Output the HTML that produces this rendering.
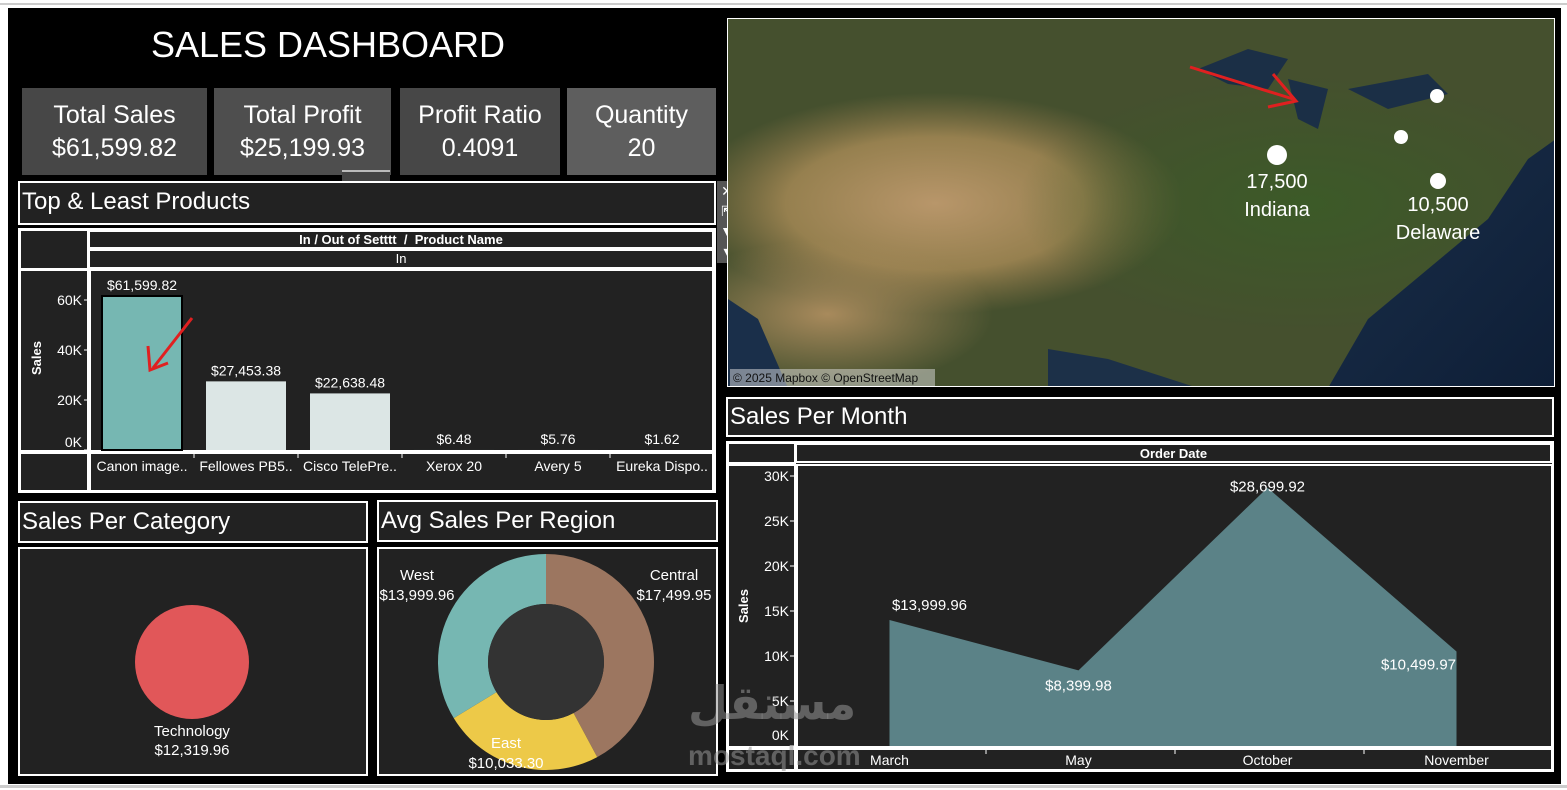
<!DOCTYPE html>
<html><head><meta charset="utf-8"><style>
*{box-sizing:border-box;margin:0;padding:0}
body{width:1567px;height:790px;background:#fff;position:relative;overflow:hidden;font-family:"Liberation Sans Narrow","Liberation Sans","DejaVu Sans",sans-serif;color:#fff}
.a{position:absolute}
.frame{position:absolute;left:8px;top:8px;width:1553px;height:776px;background:#000}
.kpi{position:absolute;top:88px;height:87px;background:#474747;text-align:center;font-size:25px;line-height:33px;padding-top:11px}
.hdr{position:absolute;background:#222;border:2px solid #fff;font-size:24px;padding-left:2px;line-height:38px}
.pan{position:absolute;background:#222;border:2px solid #fff}
.cell{position:absolute;background:#222;border:2px solid #fff}
svg text{font-family:"Liberation Sans Narrow","Liberation Sans",sans-serif}
</style></head><body>
<div class="a" style="left:0;top:3px;width:1567px;height:2px;background:#ccc"></div>
<div class="frame"></div>
<div class="a" style="left:0;top:785px;width:1567px;height:3px;background:#ccc"></div>
<div class="a" style="left:8px;width:640px;top:24px;text-align:center;font-size:36px">SALES DASHBOARD</div>
<div class="kpi" style="left:22px;width:185px">Total Sales<br>$61,599.82</div>
<div class="kpi" style="left:214px;width:177px;background:#4e4e4e">Total Profit<br>$25,199.93</div>
<div class="kpi" style="left:400px;width:160px">Profit Ratio<br>0.4091</div>
<div class="kpi" style="left:567px;width:149px;background:#5e5e5e">Quantity<br>20</div>
<div class="a" style="left:342px;top:170px;width:48px;height:12px;background:#444;border-top:2px solid #bbb"></div>

<div class="hdr" style="left:18px;top:181px;width:698px;height:44px">Top &amp; Least Products</div>
<div class="a" style="left:717px;top:181px;width:20px;height:82px;background:#555;font-size:14px;text-align:center;line-height:20px">✕<br>⇱<br>▼<br>▾</div>
<div class="pan" style="left:18px;top:228px;width:698px;height:265px"></div>
<div class="cell" style="left:88px;top:230px;width:626px;height:19px;font-size:13px;font-weight:bold;text-align:center;line-height:15px">In / Out of Setttt &nbsp;/ &nbsp;Product Name</div>
<div class="cell" style="left:88px;top:249px;width:626px;height:20px;font-size:13px;text-align:center;line-height:16px">In</div>
<svg class="a" style="left:18px;top:228px" width="700" height="265" id="bars"></svg>

<div class="hdr" style="left:18px;top:501px;width:350px;height:42px">Sales Per Category</div>
<div class="pan" style="left:18px;top:547px;width:350px;height:229px"></div>
<svg class="a" style="left:18px;top:547px" width="350" height="229">
<circle cx="174" cy="115" r="57" fill="#e15759"/>
<text x="174" y="189" text-anchor="middle" font-size="15" fill="#fff">Technology</text>
<text x="174" y="208" text-anchor="middle" font-size="15" fill="#fff">$12,319.96</text>
</svg>

<div class="hdr" style="left:377px;top:500px;width:341px;height:42px">Avg Sales Per Region</div>
<div class="pan" style="left:377px;top:547px;width:341px;height:229px"></div>
<svg class="a" style="left:377px;top:547px" width="341" height="229" id="donut"></svg>

<div class="a" style="left:727px;top:18px;width:828px;height:369px;border:1px solid #fff;overflow:hidden;background:#3d4a2a">
<svg width="828" height="369">
<defs>
<radialGradient id="g1" cx="0.25" cy="0.5" r="0.3"><stop offset="0" stop-color="#b8966a"/><stop offset="0.6" stop-color="#96804f"/><stop offset="1" stop-color="#8a7446" stop-opacity="0"/></radialGradient>
<radialGradient id="g3" cx="0.12" cy="0.8" r="0.2"><stop offset="0" stop-color="#a88a5c"/><stop offset="1" stop-color="#a88a5c" stop-opacity="0"/></radialGradient>
<radialGradient id="g2" cx="0.7" cy="0.5" r="0.35"><stop offset="0" stop-color="#3c5a28"/><stop offset="1" stop-color="#3c5a28" stop-opacity="0"/></radialGradient>
<linearGradient id="oc" x1="0" y1="0" x2="1" y2="1"><stop offset="0" stop-color="#1a2f4a"/><stop offset="1" stop-color="#0e1e36"/></linearGradient>
</defs>
<rect width="828" height="369" fill="#45502e"/>
<rect width="828" height="369" fill="url(#g1)"/>
<rect width="828" height="369" fill="url(#g3)"/>
<rect width="828" height="369" fill="url(#g2)"/>
<path d="M600 369 L640 300 L700 250 L760 200 L800 140 L828 120 L828 369 Z" fill="url(#oc)"/>
<path d="M0 280 L30 300 L60 369 L0 369 Z" fill="#1a2f4a"/>
<path d="M320 330 L380 340 L470 369 L320 369Z" fill="#1c3048"/>
<path d="M470 50 L520 30 L560 40 L540 70 L500 65Z M560 60 L600 70 L590 110 L570 100Z M620 70 L700 55 L720 75 L660 90Z" fill="#1b2f46"/>
<rect x="2" y="350" width="205" height="17" fill="#ddd" opacity="0.5"/>
<text x="5" y="363" font-size="12" fill="#111" style="font-family:'Liberation Sans',sans-serif">© 2025 Mapbox © OpenStreetMap</text>
<circle cx="709" cy="77" r="7" fill="#fff"/><circle cx="673" cy="118" r="7" fill="#fff"/>
<circle cx="549" cy="136" r="10" fill="#fff"/><circle cx="710" cy="162" r="8" fill="#fff"/>
<text x="549" y="169" text-anchor="middle" font-size="20" fill="#fff">17,500</text>
<text x="549" y="197" text-anchor="middle" font-size="20" fill="#fff">Indiana</text>
<text x="710" y="192" text-anchor="middle" font-size="20" fill="#fff">10,500</text>
<text x="710" y="220" text-anchor="middle" font-size="20" fill="#fff">Delaware</text>
<path d="M462 48 L565 80 M545 55 L568 82 L540 88" stroke="#e02020" stroke-width="3" fill="none"/>
</svg></div>

<div class="hdr" style="left:726px;top:397px;width:828px;height:40px;line-height:36px">Sales Per Month</div>
<div class="pan" style="left:726px;top:441px;width:828px;height:331px"></div>
<div class="cell" style="left:795px;top:443px;width:757px;height:20px;font-size:13px;font-weight:bold;text-align:center;line-height:17px">Order Date</div>
<svg class="a" style="left:726px;top:441px" width="828" height="331" id="area"></svg>
<div class="a" style="left:688px;top:680px;font-size:46px;color:rgba(150,150,150,0.55);font-weight:bold;font-family:'Liberation Sans','DejaVu Sans',sans-serif;line-height:46px">مستقل<br><span style="font-size:28px;line-height:30px">mostaql.com</span></div>

<script>
const NS='http://www.w3.org/2000/svg';
function mk(p,t,a){const e=document.createElementNS(NS,t);for(const k in a)e.setAttribute(k,a[k]);p.appendChild(e);return e;}
// bar chart data
const products=['Canon image..','Fellowes PB5..','Cisco TelePre..','Xerox 20','Avery 5','Eureka Dispo..'];
const productSales=[61599.82,27453.38,22638.48,6.48,5.76,1.62];
const productLabels=['$61,599.82','$27,453.38','$22,638.48','$6.48','$5.76','$1.62'];
const barTicks=[0,20000,40000,60000];
const barTickLabels=['0K','20K','40K','60K'];
(function(){
 const s=document.getElementById('bars');
 mk(s,'rect',{x:2,y:2,width:68,height:39,fill:'#222',stroke:'#fff','stroke-width':2});
 mk(s,'rect',{x:2,y:42,width:68,height:181,fill:'#222',stroke:'#fff','stroke-width':2});
 mk(s,'rect',{x:72,y:42,width:623,height:181,fill:'#222',stroke:'#fff','stroke-width':2});
 mk(s,'rect',{x:2,y:225,width:68,height:38,fill:'#222',stroke:'#fff','stroke-width':2});
 mk(s,'rect',{x:72,y:225,width:623,height:38,fill:'#222',stroke:'#fff','stroke-width':2});
 const y=v=>222-v*(150/60000);
 const bw=104, x0=72;
 barTicks.forEach((t,i)=>{const l=mk(s,'text',{x:64,y:y(t)+5-(t==0?8:0),'text-anchor':'end','font-size':14,fill:'#fff'});l.textContent=barTickLabels[i];
  mk(s,'line',{x1:66,x2:71,y1:y(t),y2:y(t),stroke:'#fff'});});
 const yl=mk(s,'text',{x:0,y:0,'font-size':13,'font-weight':'bold',fill:'#fff','text-anchor':'middle',transform:'translate(23,130) rotate(-90)'});yl.textContent='Sales';
 products.forEach((p,i)=>{
  const cx=x0+bw*(i+0.5);
  const r=mk(s,'rect',{x:cx-40,y:y(productSales[i]),width:80,height:222-y(productSales[i]),fill:i==0?'#76b7b2':'#dce6e5',stroke:i==0?'#000':'none','stroke-width':2});
  
  
  const v=mk(s,'text',{x:cx,y:Math.min(y(productSales[i])-6,216),'text-anchor':'middle','font-size':14,fill:'#fff'});v.textContent=productLabels[i];
  const t=mk(s,'text',{x:cx,y:243,'text-anchor':'middle','font-size':14,fill:'#fff'});t.textContent=p;
  if(i>0)mk(s,'line',{x1:x0+bw*i,x2:x0+bw*i,y1:226,y2:230,stroke:'#fff'});
 });
 mk(s,'path',{d:'M174 90 L135 140 M130 118 L132 142 L150 135',stroke:'#e02020','stroke-width':3,fill:'none'});
})();
// donut
const regions=['Central','East','West'];
const regionValues=[17499.95,10033.30,13999.96];
const regionLabels=['$17,499.95','$10,033.30','$13,999.96'];
const regionColors=['#9c7660','#edc948','#76b7b2'];
(function(){
 const s=document.getElementById('donut');const cx=169,cy=115,R=108,r0=58;
 const tot=regionValues.reduce((a,b)=>a+b,0);let a=0;
 regionValues.forEach((v,i)=>{
  const a1=a+v/tot*2*Math.PI;
  const p=(ang,rr)=>[cx+rr*Math.sin(ang),cy-rr*Math.cos(ang)];
  const [x1,y1]=p(a,R),[x2,y2]=p(a1,R),[x3,y3]=p(a1,r0),[x4,y4]=p(a,r0);const lg=(a1-a)>Math.PI?1:0;
  const e=mk(s,'path',{d:`M${x1} ${y1} A${R} ${R} 0 ${lg} 1 ${x2} ${y2} L${x3} ${y3} A${r0} ${r0} 0 ${lg} 0 ${x4} ${y4}Z`,fill:regionColors[i]});
  
  
  a=a1;});
 mk(s,'circle',{cx:cx,cy:cy,r:r0,fill:'#333'});
 const lab=[[297,33,'middle'],[129,201,'middle'],[40,33,'middle']];
 regions.forEach((n,i)=>{const [x,y,an]=lab[i];
  let t=mk(s,'text',{x:x,y:y,'text-anchor':an,'font-size':15,fill:'#fff'});t.textContent=n;
  t=mk(s,'text',{x:x,y:y+20,'text-anchor':an,'font-size':15,fill:'#fff'});t.textContent=regionLabels[i];});
})();
// area
const months=['March','May','October','November'];
const monthSales=[13999.96,8399.98,28699.92,10499.97];
const monthLabels=['$13,999.96','$8,399.98','$28,699.92','$10,499.97'];
const areaTicks=[0,5000,10000,15000,20000,25000,30000];
const areaTickLabels=['0K','5K','10K','15K','20K','25K','30K'];
(function(){
 const s=document.getElementById('area');
 mk(s,'rect',{x:2,y:2,width:67,height:20,fill:'#222',stroke:'#fff','stroke-width':2});
 mk(s,'rect',{x:2,y:24,width:67,height:282,fill:'#222',stroke:'#fff','stroke-width':2});
 mk(s,'rect',{x:71,y:24,width:755,height:282,fill:'#222',stroke:'#fff','stroke-width':2});
 mk(s,'rect',{x:2,y:308,width:67,height:21,fill:'#222',stroke:'#fff','stroke-width':2});
 mk(s,'rect',{x:71,y:308,width:755,height:21,fill:'#222',stroke:'#fff','stroke-width':2});
 const y=v=>305-v*(270/30000);const x=i=>71+189*(i+0.5)-2;
 areaTicks.forEach((t,i)=>{const l=mk(s,'text',{x:63,y:y(t)+5-(t==0?11:0),'text-anchor':'end','font-size':14,fill:'#fff'});l.textContent=areaTickLabels[i];
  mk(s,'line',{x1:64,x2:70,y1:y(t),y2:y(t),stroke:'#fff'});});
 const yl=mk(s,'text',{x:0,y:0,'font-size':13,'font-weight':'bold',fill:'#fff','text-anchor':'middle',transform:'translate(22,165) rotate(-90)'});yl.textContent='Sales';
 let d=`M${x(0)} ${y(0)}`;monthSales.forEach((v,i)=>d+=` L${x(i)} ${y(v)}`);d+=` L${x(3)} ${y(0)}Z`;
 const ar=mk(s,'path',{d:d,fill:'#5b8287'});
 
 
 monthSales.forEach((v,i)=>{
  const ly=i==1?y(v)+20:(i==3?y(v)+18:(i==2?y(v)+4:y(v)-10));
  const t=mk(s,'text',{x:x(i)+(i==0?40:(i==3?-38:0)),y:ly,'text-anchor':'middle','font-size':15,fill:'#fff'});t.textContent=monthLabels[i];
  const m=mk(s,'text',{x:x(i),y:324,'text-anchor':'middle','font-size':14,fill:'#fff'});m.textContent=months[i];
  if(i>0)mk(s,'line',{x1:71+189*i,x2:71+189*i,y1:309,y2:313,stroke:'#fff'});
 });
})();
</script>
</body></html>
